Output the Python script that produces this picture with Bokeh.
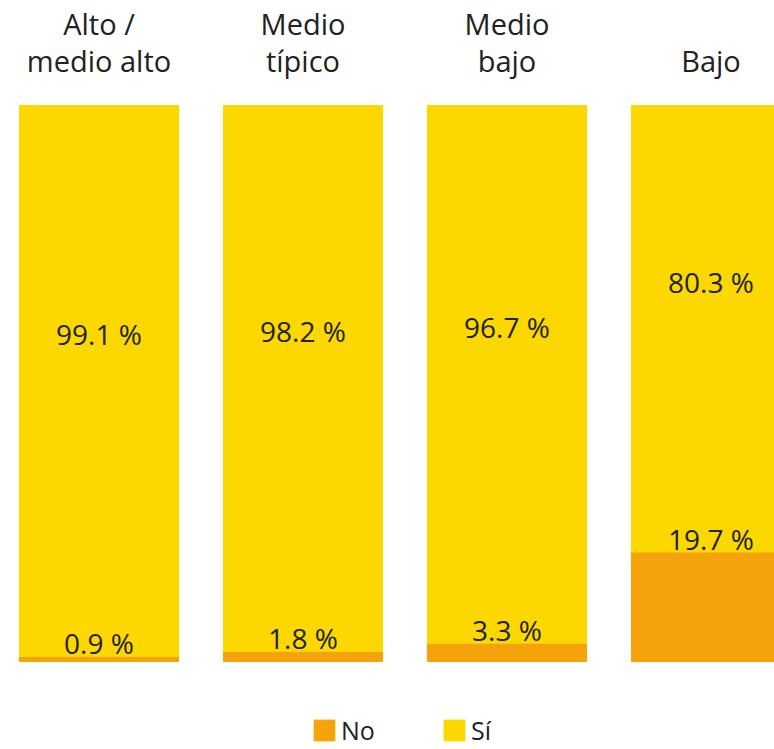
from bokeh.plotting import figure
from bokeh.models import ColumnDataSource, Range1d, Legend, LegendItem
from bokeh.core.properties import value
from bokeh.embed import file_html
from bokeh.resources import INLINE

categories = ["Alto /\nmedio alto", "Medio\ntípico", "Medio\nbajo", "Bajo"]
no_vals = [0.9, 1.8, 3.3, 19.7]
si_vals = [99.1, 98.2, 96.7, 80.3]

YELLOW = "#FCD800"
ORANGE = "#F4A40A"
TEXT = "#222222"
FONT = "Open Sans"

xs = list(range(len(categories)))
src = ColumnDataSource(dict(
    x=xs,
    no=no_vals,
    si=si_vals,
    total=[a + b for a, b in zip(no_vals, si_vals)],
    si_mid=[a + b / 2 for a, b in zip(no_vals, si_vals)],
    cat=categories,
    no_lab=[f"{v} %" for v in no_vals],
    si_lab=[f"{v} %" for v in si_vals],
))

p = figure(width=774, height=749, output_backend="svg", toolbar_location=None,
           x_range=Range1d(-0.4828, 3.3113), y_range=Range1d(-15.83, 118.88),
           min_border=0)
p.axis.visible = False
p.grid.visible = False
p.outline_line_color = None
p.background_fill_color = "white"

w = 0.78
r_no = p.vbar(x="x", bottom=0, top="no", width=w, color=ORANGE, source=src)
r_si = p.vbar(x="x", bottom="no", top="total", width=w, color=YELLOW, source=src)

p.text(x="x", y="no", text="no_lab", source=src, text_align="center",
       text_baseline="bottom", y_offset=6, text_font=value(FONT), text_font_size="28px",
       text_color=TEXT)
p.text(x="x", y="si_mid", text="si_lab", source=src, text_align="center",
       text_baseline="middle", y_offset=-47, text_font=value(FONT),
       text_font_size="28px", text_color=TEXT)
p.text(x="x", y="total", text="cat", source=src, text_align="center",
       text_baseline="bottom", y_offset=-25, text_line_height=0.95,
       text_font=value(FONT), text_font_size="29px", text_color=TEXT)

legend = Legend(items=[LegendItem(label="No", renderers=[r_no]),
                       LegendItem(label="Sí", renderers=[r_si])],
                orientation="horizontal", location=(311, 2),
                glyph_width=26, glyph_height=26, label_standoff=4,
                label_width=98, spacing=2, padding=0, margin=0,
                border_line_alpha=0, background_fill_alpha=0,
                label_text_font=FONT, label_text_font_size="25px",
                label_text_color=TEXT, label_height=26)
p.add_layout(legend)

open("out.html", "w").write(file_html(p, INLINE))
